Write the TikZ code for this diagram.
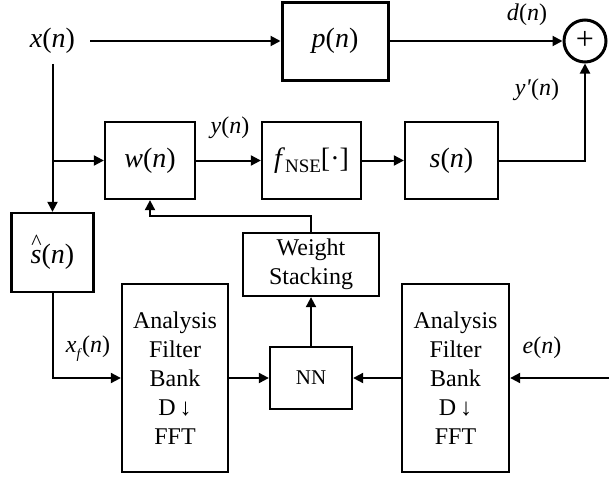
\documentclass[tikz,border=0pt]{standalone}
\usepackage{fontspec}
\setmainfont{Liberation Serif}
\usetikzlibrary{arrows.meta}

\tikzset{
  blk/.style={draw, line width=2.3pt, inner sep=0pt, align=center},
  mlabel/.style={font=\fontsize{28}{30}\selectfont},
  elabel/.style={font=\fontsize{24}{26}\selectfont, inner sep=0pt},
  btext/.style={font=\fontsize{24}{29}\selectfont},
  arr/.style={line width=2pt, -{Triangle[length=10pt,width=10pt]}},
}

\begin{document}
\begin{tikzpicture}[x=1pt, y=-1pt]
  \useasboundingbox (0,0) rectangle (609,479);

  % signal source
  \node[mlabel, inner xsep=15pt, inner ysep=10pt] (xn) at (52.5,41) {\textit{x}(\textit{n})};

  % top row: plant and summing junction
  \node[blk, mlabel, line width=3pt, minimum width=106pt, minimum height=78pt] (p) at (335,41) {\textit{p}(\textit{n})};
  \node[draw, circle, line width=3pt, minimum size=42pt, inner sep=0pt, font=\fontsize{32}{32}\selectfont] (sum) at (585,41) {\raisebox{0.05em}{+}};

  % middle row: control filter, nonlinearity, secondary path
  \node[blk, mlabel, minimum width=90pt, minimum height=77pt] (w) at (150,160.5) {\textit{w}(\textit{n})};
  \node[blk, mlabel, minimum width=99pt, minimum height=77pt] (f) at (311.5,160.5)
    {\textit{f}\raisebox{-0.2em}{\fontsize{19}{19}\selectfont NSE}[·]};
  \node[blk, mlabel, minimum width=93pt, minimum height=77pt] (s) at (451.5,160.5) {\textit{s}(\textit{n})};

  % secondary path estimate
  \node[blk, mlabel, minimum width=82pt, minimum height=79pt] (sh) at (52.5,252.5)
    {\textit{s\llap{\raisebox{0.5em}{\fontsize{22}{22}\selectfont\^{}}\kern0.05em}}(\textit{n})};

  % weight update branch
  \node[blk, btext, minimum width=136pt, minimum height=63pt] (ws) at (311,264.5) {Weight\\Stacking};
  \node[blk, minimum width=82pt, minimum height=62pt, font=\fontsize{21}{21}\selectfont] (nn) at (311,378) {NN};
  \node[blk, btext, minimum width=106pt, minimum height=188pt] (afa) at (175,378) {Analysis\\Filter\\Bank\\D\,↓\\FFT};
  \node[blk, btext, minimum width=107pt, minimum height=188pt] (afb) at (455.5,378) {Analysis\\Filter\\Bank\\D\,↓\\FFT};

  \coordinate (br) at (52.5,160.5);
  \coordinate (ein) at (612,378);

  % connectors
  \draw[arr] (xn.east) -- (p.west);
  \draw[arr] (p.east) -- (sum.west);
  \draw[arr] (xn.south) -- (sh.north);
  \draw[arr] (br) -- (w.west);
  \draw[arr] (w.east) -- (f.west);
  \draw[arr] (f.east) -- (s.west);
  \draw[arr] (s.east) -| (sum.south);
  \draw[arr] (sh.south) |- (afa.west);
  \draw[arr] (afa.east) -- (nn.west);
  \draw[arr] (afb.west) -- (nn.east);
  \draw[arr] (ein) -- (afb.east);
  \draw[arr] (nn.north) -- (ws.south);
  \draw[arr] (ws.north) -- ++(0,-16) -| (w.south);

  % signal labels
  \node[elabel] (dl) at (527,15) {\textit{d}(\textit{n})};
  \node[elabel] (ypl) at (537,90) {\textit{y\textquotesingle}(\textit{n})};
  \node[elabel] (yl) at (230,128) {\textit{y}(\textit{n})};
  \node[elabel] (xfl) at (88,349) {\textit{x}\raisebox{-0.25em}{\fontsize{14}{14}\selectfont\textit{f}}(\textit{n})};
  \node[elabel] (el) at (542,348) {\textit{e}(\textit{n})};
\end{tikzpicture}
\end{document}
